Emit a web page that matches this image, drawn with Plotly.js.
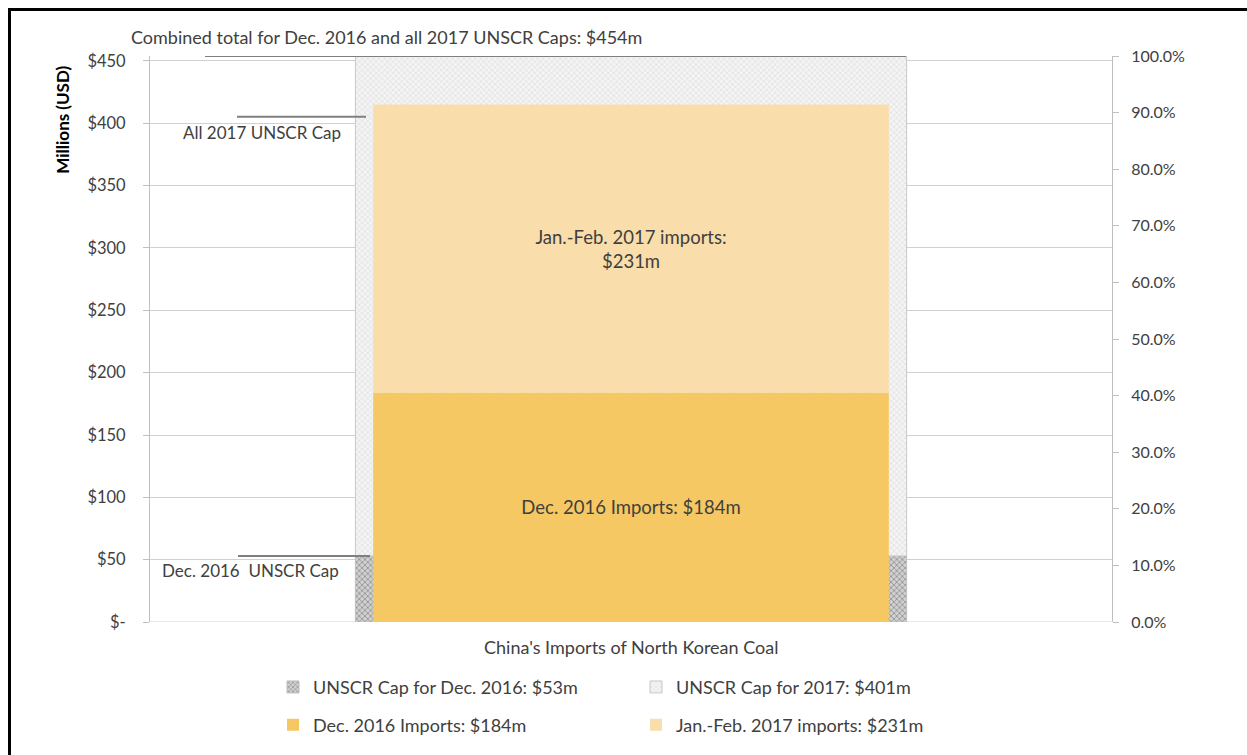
<!DOCTYPE html>
<html>
<head>
<meta charset="utf-8">
<script src="https://cdn.plot.ly/plotly-3.0.1.min.js"></script>
<style>
  html, body { margin: 0; padding: 0; background: #fff; }
  #frame { position: absolute; left: 8px; top: 8px; width: 1239px; height: 747px;
           border-top: 3px solid #000; border-left: 3px solid #000; box-sizing: border-box; }
  #chart { position: absolute; left: 0; top: 0; width: 1247px; height: 755px; }
</style>
</head>
<body>
<div id="frame"></div>
<div id="chart"></div>
<script>
// ---- data ----
const category = ["China's Imports of North Korean Coal"];
const capDec2016 = [53];
const cap2017 = [401];
const importsDec2016 = [184];
const importsJanFeb2017 = [231];
const seriesNames = [
  "UNSCR Cap for Dec. 2016: $53m",
  "UNSCR Cap for 2017: $401m",
  "Dec. 2016 Imports: $184m",
  "Jan.-Feb. 2017 imports: $231m"
];
const barLabels = ["Dec. 2016 Imports: $184m", "Jan.-Feb. 2017 imports:<br>$231m"];
const leftTickVals = [0, 50, 100, 150, 200, 250, 300, 350, 400, 450];
const leftTickText = ["$-", "$50", "$100", "$150", "$200", "$250", "$300", "$350", "$400", "$450"];
const rightTickVals = [0, 0.1, 0.2, 0.3, 0.4, 0.5, 0.6, 0.7, 0.8, 0.9, 1.0];
const annotationTexts = [
  "Combined total for Dec. 2016 and all 2017 UNSCR Caps: $454m",
  "All 2017 UNSCR Cap",
  "Dec. 2016  UNSCR Cap"
];
const yTitle = "Millions (USD)";

const capTotal = capDec2016[0] + cap2017[0];
const FONT = "Lato, 'Open Sans', sans-serif";
const TXT = '#404040';
const outerW = 0.573, innerW = 0.536;

const traces = [
  {
    type: 'bar', x: category, y: capDec2016, base: [0], width: outerW,
    name: seriesNames[0], legend: 'legend',
    marker: { color: '#c0c0c0', line: { color: '#bfbfbf', width: 1 },
      pattern: { shape: 'x', fgcolor: '#959595', bgcolor: '#d0d0d0', size: 4, solidity: 0.4 } },
    hoverinfo: 'none'
  },
  {
    type: 'bar', x: category, y: cap2017, base: capDec2016, width: outerW,
    name: seriesNames[1], legend: 'legend',
    marker: { color: '#f2f2f2', line: { color: '#c8c8c8', width: 1 },
      pattern: { shape: 'x', fgcolor: '#dcdcdc', bgcolor: '#f4f4f4', size: 4, solidity: 0.3 } },
    hoverinfo: 'none'
  },
  {
    type: 'bar', x: category, y: importsDec2016, base: [0], width: innerW,
    name: seriesNames[2], legend: 'legend2',
    marker: { color: '#f5c863', line: { width: 0 } },
    text: [barLabels[0]], textposition: 'inside', insidetextanchor: 'middle', textangle: 0,
    textfont: { family: FONT, size: 18.5, color: TXT },
    hoverinfo: 'none'
  },
  {
    type: 'bar', x: category, y: importsJanFeb2017, base: importsDec2016, width: innerW,
    name: seriesNames[3], legend: 'legend2',
    marker: { color: '#f9ddab', line: { width: 0 } },
    text: [barLabels[1]], textposition: 'inside', insidetextanchor: 'middle', textangle: 0,
    textfont: { family: FONT, size: 18.5, color: TXT },
    hoverinfo: 'none'
  },
  {
    type: 'scatter', x: category, y: [0], yaxis: 'y2', mode: 'markers',
    marker: { opacity: 0 }, showlegend: false, hoverinfo: 'none'
  }
];

const px2x = p => (p - 150) / 962;
const py2y = p => (625 - p) / 569;
const lineStyle = { color: '#7f7f7f', width: 2 };
const annFont = { family: FONT, size: 18, color: TXT };
const capFont = { family: FONT, size: 17, color: TXT };

const layout = {
  width: 1247, height: 755,
  margin: { l: 150, r: 135, t: 56, b: 130 },
  paper_bgcolor: 'rgba(0,0,0,0)', plot_bgcolor: 'rgba(0,0,0,0)',
  font: { family: FONT, size: 17, color: TXT },
  barmode: 'overlay',
  showlegend: true,
  xaxis: {
    type: 'category', range: [-0.5, 0.5], showticklabels: false, ticks: '',
    showgrid: false, zeroline: false, showline: false, fixedrange: true
  },
  yaxis: {
    range: [0, capTotal], tickvals: leftTickVals, ticktext: leftTickText,
    showgrid: true, gridcolor: '#d0d0d0', gridwidth: 1,
    showline: true, linecolor: '#bfbfbf', linewidth: 1,
    ticks: 'outside', ticklen: 6, tickcolor: '#bfbfbf', ticklabelstandoff: 14,
    zeroline: false,
    tickfont: { family: FONT, size: 16.5, color: TXT }
  },
  yaxis2: {
    overlaying: 'y', side: 'right', range: [0, 1], tickvals: rightTickVals, tickformat: '.1%',
    showgrid: false, zeroline: false, showline: true, linecolor: '#bfbfbf', linewidth: 1,
    ticks: 'outside', ticklen: 6, tickcolor: '#bfbfbf', ticklabelstandoff: 9,
    tickfont: { family: FONT, size: 16, color: TXT }
  },
  legend: {
    orientation: 'h', x: px2x(273), xanchor: 'left', y: py2y(672), yanchor: 'top',
    entrywidth: 318, entrywidthmode: 'pixels', itemwidth: 30,
    font: { family: FONT, size: 18, color: TXT }, bgcolor: 'rgba(0,0,0,0)',
    traceorder: 'normal'
  },
  legend2: {
    orientation: 'h', x: px2x(273), xanchor: 'left', y: py2y(710), yanchor: 'top',
    entrywidth: 318, entrywidthmode: 'pixels', itemwidth: 30,
    font: { family: FONT, size: 18, color: TXT }, bgcolor: 'rgba(0,0,0,0)',
    traceorder: 'normal'
  },
  shapes: [
    { type: 'line', xref: 'paper', yref: 'y', x0: 0, x1: 1, y0: 0, y1: 0,
      line: { color: '#d0d0d0', width: 1 }, layer: 'below' },
    { type: 'line', xref: 'paper', yref: 'y', x0: px2x(205), x1: px2x(906), y0: capTotal, y1: capTotal, line: lineStyle },
    { type: 'line', xref: 'paper', yref: 'paper', x0: px2x(237), x1: px2x(366), y0: py2y(117), y1: py2y(117), line: lineStyle },
    { type: 'line', xref: 'paper', yref: 'y', x0: px2x(238), x1: px2x(370), y0: capDec2016[0], y1: capDec2016[0], line: lineStyle }
  ],
  annotations: [
    { text: annotationTexts[0], xref: 'paper', yref: 'paper', x: px2x(386), y: py2y(37),
      showarrow: false, xanchor: 'center', yanchor: 'middle', font: annFont },
    { text: annotationTexts[1], xref: 'paper', yref: 'paper', x: px2x(262), y: py2y(133),
      showarrow: false, xanchor: 'center', yanchor: 'middle', font: capFont },
    { text: annotationTexts[2], xref: 'paper', yref: 'paper', x: px2x(250), y: py2y(573),
      showarrow: false, xanchor: 'center', yanchor: 'middle', font: capFont },
    { text: category[0], xref: 'paper', yref: 'paper', x: px2x(631), y: py2y(650),
      showarrow: false, xanchor: 'center', yanchor: 'middle', font: annFont },
    { text: '<b>' + yTitle + '</b>', xref: 'paper', yref: 'paper', x: px2x(63), y: py2y(120),
      textangle: -90, showarrow: false, xanchor: 'center', yanchor: 'middle',
      font: { family: FONT, size: 17, color: '#000' } }
  ]
};

Plotly.newPlot('chart', traces, layout, { displayModeBar: false, staticPlot: true });
</script>
</body>
</html>
